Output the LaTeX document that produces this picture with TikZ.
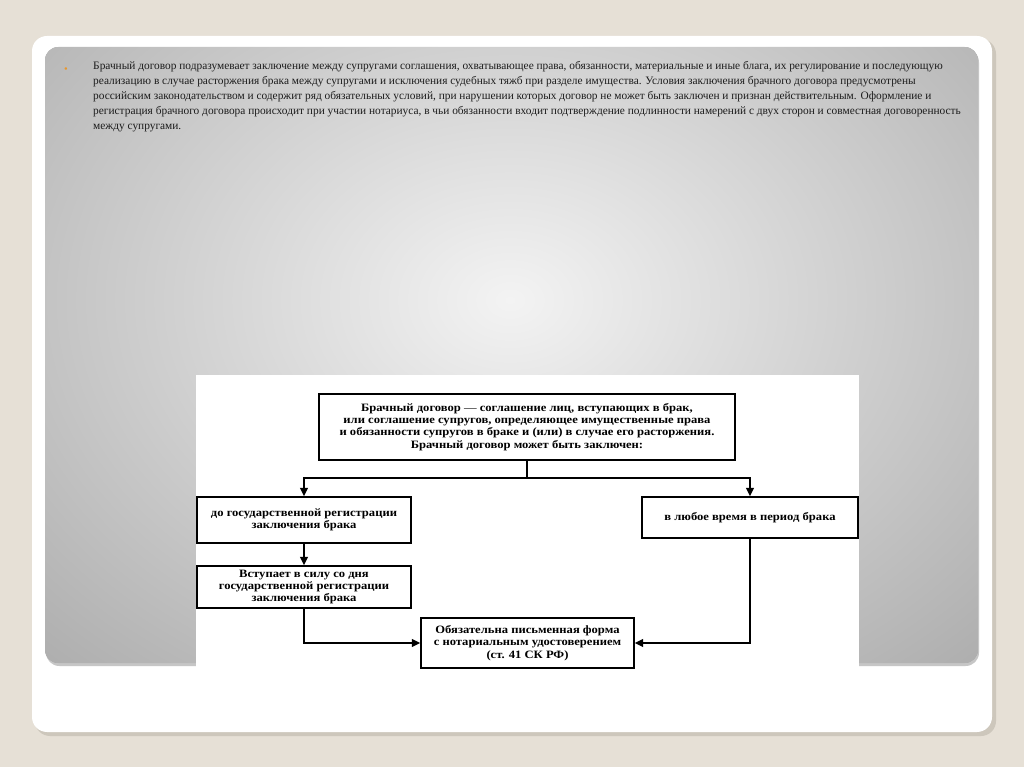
\documentclass[tikz,border=0pt]{standalone}
\usepackage{fontspec}
\setmainfont{Liberation Serif}
\newfontfamily\schemefont[FakeStretch=1.12,Ligatures=TeX]{Liberation Serif}
\usepackage{xcolor}
\definecolor{SlideBeige}{HTML}{E6E0D6}
\definecolor{CardShadow}{HTML}{CDC7BC}
\definecolor{PanelGray}{HTML}{A1A1A1}
\definecolor{PanelLight}{HTML}{F3F3F3}
\definecolor{BulletOrange}{HTML}{E8962C}
\definecolor{BodyInk}{HTML}{1C1C1C}
\usepackage{tikz}
\usetikzlibrary{arrows.meta, positioning}

\begin{document}
\begin{tikzpicture}[x=0.03cm, y=-0.03cm,
  box/.style={draw, line width=1.4pt, align=center, inner sep=0pt,
    font=\schemefont\fontsize{9.6}{10.4}\selectfont\bfseries},
  link/.style={line width=1.4pt, -{Triangle[length=7pt,width=6.5pt]}}]
  \useasboundingbox (0,0) rectangle (1024,767);
  % slide background and card
  \fill[SlideBeige] (0,0) rectangle (1024,767);
  \fill[CardShadow,rounded corners=0.45cm] (35,39) rectangle (996,736);
  \fill[white,rounded corners=0.45cm] (32,36) rectangle (992,732);
  \fill[gray!45,rounded corners=0.4cm] (46,49) rectangle (979,666);
  \begin{scope}
    \clip[rounded corners=0.4cm] (45,47) rectangle (978,663);
    \fill[PanelGray] (45,47) rectangle (978,663);
    \shade[inner color=PanelLight, outer color=PanelGray]
      (510,300) ellipse [x radius=24cm, y radius=18cm];
  \end{scope}
  % bullet text
  \node[text=BulletOrange,font=\small] (dot) at (66,70) {\textbullet};
  \node[anchor=north west,align=left,inner sep=0pt,text=BodyInk,
    font=\fontsize{9.7}{12.8}\selectfont] (para) at (93,61)
    {Брачный договор подразумевает заключение между супругами соглашения, охватывающее права, обязанности, материальные и иные блага, их регулирование и последующую\\
     реализацию в случае расторжения брака между супругами и исключения судебных тяжб при разделе имущества. Условия заключения брачного договора предусмотрены\\
     российским законодательством и содержит ряд обязательных условий, при нарушении которых договор не может быть заключен и признан действительным. Оформление и\\
     регистрация брачного договора происходит при участии нотариуса, в чьи обязанности входит подтверждение подлинности намерений с двух сторон и совместная договоренность\\
     между супругами.};
  % scheme
  \fill[white] (196,375) rectangle (859,668);
  \node[box,minimum width=12.48cm,minimum height=1.98cm] (contract) at (527,427)
    {Брачный договор {\mdseries —} соглашение лиц, вступающих в брак,\\
     или соглашение супругов, определяющее имущественные права\\
     и обязанности супругов в браке и (или) в случае его расторжения.\\
     Брачный договор может быть заключен:};
  \node[box,minimum width=6.42cm,minimum height=1.38cm] (before) at (304,520)
    {до государственной регистрации\\ заключения брака};
  \node[box,minimum width=6.48cm,minimum height=1.23cm] (anytime) at (750,517.5)
    {в любое время в период брака};
  \node[box,minimum width=6.42cm,minimum height=1.26cm] (effect) at (304,587)
    {Вступает в силу со дня\\ государственной регистрации\\ заключения брака};
  \node[box,minimum width=6.39cm,minimum height=1.5cm] (notary) at (527.5,643)
    {Обязательна письменная форма\\ с нотариальным удостоверением\\ (ст. 41 СК РФ)};
  \coordinate (split) at (527,478);
  \draw[line width=1.4pt] (contract.south) -- (split);
  \draw[link] (split) -| (before.north);
  \draw[link] (split) -| (anytime.north);
  \draw[link] (before) -- (effect);
  \draw[link] (effect.south) |- (notary.west);
  \draw[link] (anytime.south) |- (notary.east);
\end{tikzpicture}
\end{document}
